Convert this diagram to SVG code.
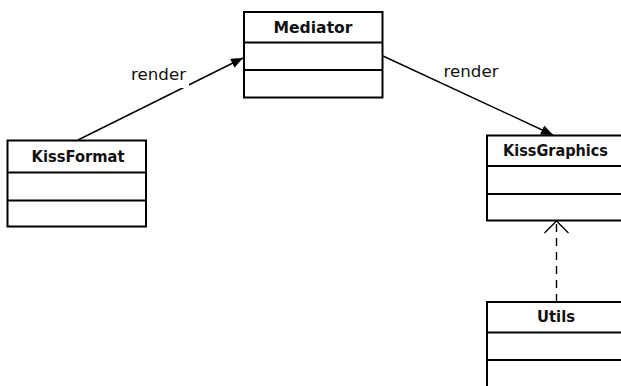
<svg xmlns="http://www.w3.org/2000/svg" width="621" height="386" viewBox="0 0 621 386">
<defs>
<marker id="filled" viewBox="0 0 12 10" refX="12" refY="5" markerWidth="12" markerHeight="10" markerUnits="userSpaceOnUse" orient="auto">
<path d="M0,0 L12,5 L0,10 Z" fill="#000"/>
</marker>
<marker id="open" viewBox="0 0 14 26" refX="13" refY="13" markerWidth="14" markerHeight="26" markerUnits="userSpaceOnUse" orient="auto">
<path d="M1,1 L13,13 L1,25" fill="none" stroke="#000" stroke-width="1.3"/>
</marker>
<style>
.box{fill:#fff;stroke:#000;stroke-width:2}
.sep{stroke:#000;stroke-width:2}
.name{font-family:"DejaVu Sans",sans-serif;font-weight:bold;font-size:15px;text-anchor:middle;fill:#111}
.lbl{font-family:"DejaVu Sans",sans-serif;font-size:15px;text-anchor:middle;fill:#111}
.conn{stroke:#000;stroke-width:1.4;fill:none}
</style>
</defs>
<rect width="621" height="386" fill="#fff"/>
<g id="connectors">
<line class="conn" x1="78" y1="140" x2="243" y2="58" marker-end="url(#filled)"/>
<rect x="128" y="64" width="61" height="24" fill="#fff"/>
<text class="lbl" x="158.5" y="80" textLength="55" lengthAdjust="spacingAndGlyphs">render</text>
<line class="conn" x1="383" y1="56" x2="553" y2="135" marker-end="url(#filled)"/>
<text class="lbl" x="471" y="77" textLength="55" lengthAdjust="spacingAndGlyphs">render</text>
<line class="conn" x1="556.5" y1="302" x2="556.5" y2="221" stroke-dasharray="8,6" marker-end="url(#open)"/>
</g>
<g id="Mediator">
<rect class="box" x="244" y="12" width="138.5" height="85.5"/>
<line class="sep" x1="244" y1="42.5" x2="382.5" y2="42.5"/>
<line class="sep" x1="244" y1="70" x2="382.5" y2="70"/>
<text class="name" x="313" y="32.5" textLength="79" lengthAdjust="spacingAndGlyphs">Mediator</text>
</g>
<g id="KissFormat">
<rect class="box" x="7.5" y="140.5" width="138.5" height="86"/>
<line class="sep" x1="7.5" y1="172.5" x2="146" y2="172.5"/>
<line class="sep" x1="7.5" y1="200.5" x2="146" y2="200.5"/>
<text class="name" x="78" y="162" textLength="93" lengthAdjust="spacingAndGlyphs">KissFormat</text>
</g>
<g id="KissGraphics">
<rect class="box" x="487" y="135.5" width="140" height="85"/>
<line class="sep" x1="487" y1="166" x2="627" y2="166"/>
<line class="sep" x1="487" y1="194" x2="627" y2="194"/>
<text class="name" x="555.5" y="155.5" textLength="105" lengthAdjust="spacingAndGlyphs">KissGraphics</text>
</g>
<g id="Utils">
<rect class="box" x="487" y="302" width="140" height="90"/>
<line class="sep" x1="487" y1="332.5" x2="627" y2="332.5"/>
<line class="sep" x1="487" y1="360" x2="627" y2="360"/>
<text class="name" x="556" y="322" textLength="38" lengthAdjust="spacingAndGlyphs">Utils</text>
</g>
</svg>
